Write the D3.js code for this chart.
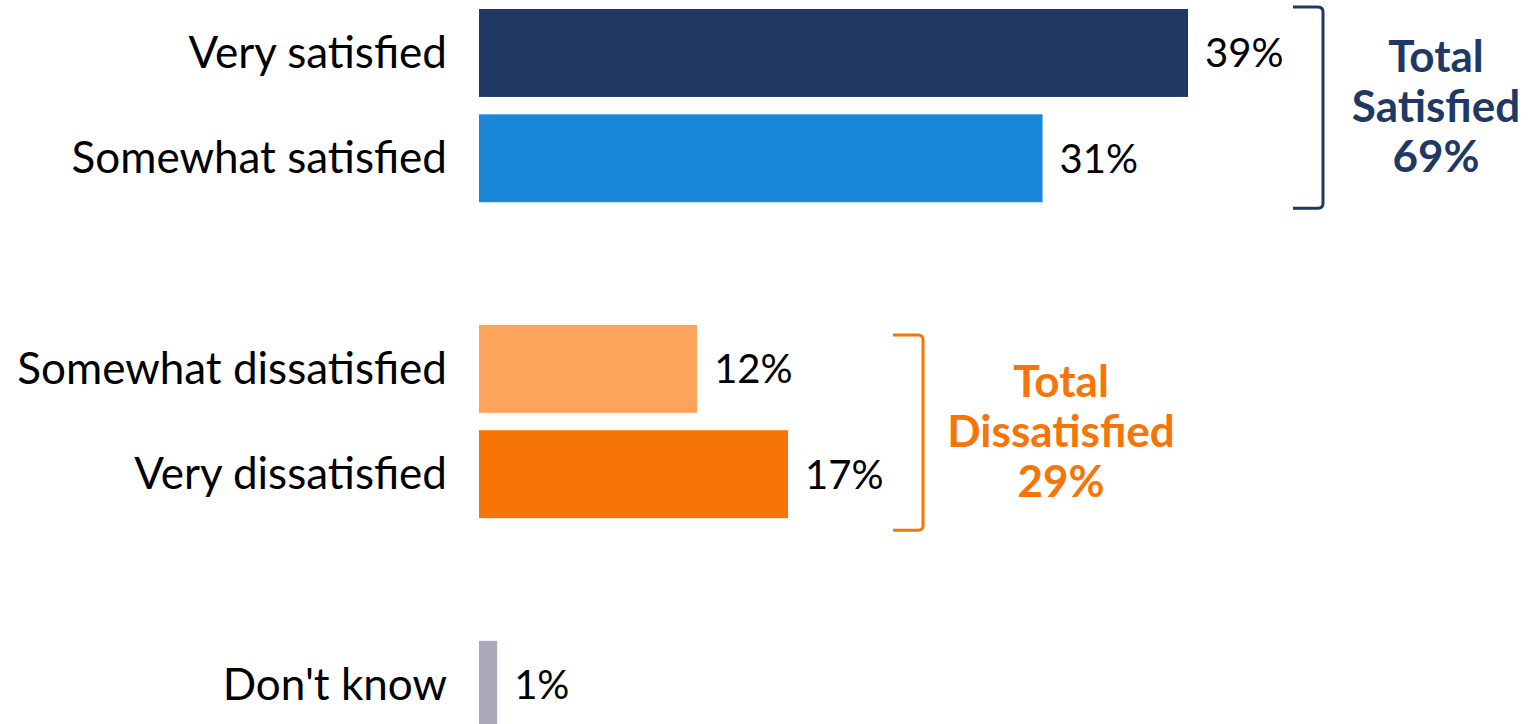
<!DOCTYPE html>
<html>
<head>
<meta charset="utf-8">
<script src="https://cdn.jsdelivr.net/npm/d3@7"></script>
<style>
  body { margin: 0; background: #fff; }
  svg { display: block; font-family: Lato, "Open Sans", sans-serif; }
</style>
</head>
<body>
<div class="graphic"></div>
<script>
// rows of the chart, "" rows are just empty space between groups
var rows = ["Very satisfied", "Somewhat satisfied", "", "Somewhat dissatisfied", "Very dissatisfied", " ", "Don't know"];
var categories = ["Very satisfied", "Somewhat satisfied", "Somewhat dissatisfied", "Very dissatisfied", "Don't know"];
var values = [39, 31, 12, 17, 1];
var colors = ["#1f3864", "#1a88d8", "#fba45a", "#f77406", "#a9a9b9"];

// the two bracketed totals
var groupNames = [["Total", "Satisfied", "69%"], ["Total", "Dissatisfied", "29%"]];
var groupMembers = [["Very satisfied", "Somewhat satisfied"], ["Somewhat dissatisfied", "Very dissatisfied"]];
var groupColors = ["#1f3864", "#f77406"];

var width = 1530, height = 724;

var svg = d3.select(".graphic").append("svg")
    .attr("width", width)
    .attr("height", height);

var x = d3.scaleLinear().domain([0, 39]).range([479, 1188]);
var y = d3.scaleBand().domain(rows).range([9, 728.8]).paddingInner(0.165).paddingOuter(0);

var data = categories.map(function(c, i) { return {cat: c, val: values[i], color: colors[i]}; });

// bars
svg.selectAll("rect.bar")
    .data(data)
  .enter().append("rect")
    .attr("class", "bar")
    .attr("x", x(0))
    .attr("y", d => y(d.cat))
    .attr("width", d => x(d.val) - x(0))
    .attr("height", y.bandwidth())
    .attr("fill", d => d.color);

// category labels
svg.selectAll("text.cat")
    .data(data)
  .enter().append("text")
    .attr("class", "cat")
    .attr("x", 447)
    .attr("y", d => y(d.cat) + y.bandwidth() / 2)
    .attr("dy", "0.34em")
    .attr("text-anchor", "end")
    .attr("font-size", 44)
    .attr("fill", "#000")
    .text(d => d.cat);

// value labels
svg.selectAll("text.val")
    .data(data)
  .enter().append("text")
    .attr("class", "val")
    .attr("x", d => x(d.val) + 17)
    .attr("y", d => y(d.cat) + y.bandwidth() / 2)
    .attr("dy", "0.36em")
    .attr("font-size", 40)
    .attr("fill", "#000")
    .text(d => d.val + "%");

// brackets + totals
var textDx = [113, 138];
groupMembers.forEach(function(members, gi) {
  var maxVal = d3.max(members, m => values[categories.indexOf(m)]);
  var bx = x(maxVal) + 135;
  var top = y(members[0]) + (gi == 0 ? -2 : 10);
  var bottom = y(members[members.length - 1]) + y.bandwidth() + (gi == 0 ? 6 : 12);
  var r = 5;
  var p = d3.path();
  p.moveTo(bx - 30, top);
  p.lineTo(bx - r, top);
  p.quadraticCurveTo(bx, top, bx, top + r);
  p.lineTo(bx, bottom - r);
  p.quadraticCurveTo(bx, bottom, bx - r, bottom);
  p.lineTo(bx - 30, bottom);
  svg.append("path")
      .attr("d", p.toString())
      .attr("fill", "none")
      .attr("stroke", groupColors[gi])
      .attr("stroke-width", 3);

  var mid = (top + bottom) / 2;
  var t = svg.append("text")
      .attr("x", bx + textDx[gi])
      .attr("y", mid - 50)
      .attr("text-anchor", "middle")
      .attr("font-size", 44)
      .attr("font-weight", "bold")
      .attr("fill", groupColors[gi]);
  groupNames[gi].forEach(function(line, li) {
    t.append("tspan")
        .attr("x", bx + textDx[gi])
        .attr("dy", li == 0 ? "0.33em" : 50)
        .text(line);
  });
});
</script>
</body>
</html>
